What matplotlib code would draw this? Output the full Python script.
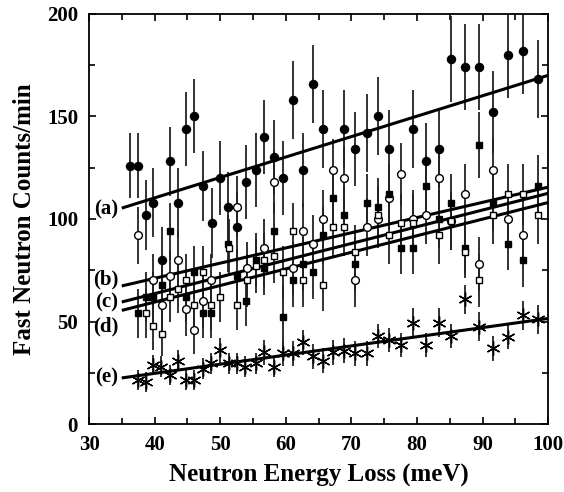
import matplotlib
matplotlib.use("Agg")
import matplotlib.pyplot as plt
from matplotlib.ticker import MultipleLocator

plt.rcParams['font.family'] = ['Liberation Serif', 'DejaVu Serif']
plt.rcParams['font.weight'] = 'bold'

# (a) filled circles
xa = [36.3, 37.5, 38.7, 39.8, 41.1, 42.3, 43.6, 44.8, 46.0, 47.4, 48.7, 49.9, 51.2, 52.6,
      53.9, 55.4, 56.7, 58.2, 59.6, 61.1, 62.6, 64.2, 65.7, 68.9, 70.5, 72.3, 74.0, 75.8,
      79.4, 81.4, 83.3, 85.2, 87.3, 89.4, 91.6, 93.8, 96.1, 98.4]
ya = [126, 126, 102, 108, 80, 128, 108, 144, 150, 116, 98, 120, 106, 96,
      118, 124, 140, 130, 120, 158, 124, 166, 144, 144, 134, 142, 150, 134,
      144, 128, 134, 178, 174, 174, 152, 180, 182, 168]
ea = [16, 16, 17, 17, 16, 17, 17, 18, 18, 17, 17, 18, 17, 17,
      18, 18, 18, 18, 18, 19, 18, 19, 19, 19, 18, 19, 19, 19,
      19, 19, 19, 21, 21, 21, 20, 21, 21, 19]

# (b) open circles
xb = [37.5, 39.8, 41.1, 42.3, 43.6, 44.8, 46.0, 47.4, 48.6, 52.6, 54.0, 56.7, 58.2, 61.1,
      62.6, 64.2, 65.7, 67.2, 68.9, 70.5, 72.3, 74.0, 75.8, 77.5, 79.4, 81.4, 83.3, 85.2,
      87.3, 89.4, 91.6, 93.8, 96.1]
yb = [92, 70, 58, 72, 80, 56, 46, 60, 70, 106, 76, 86, 118, 76,
      94, 88, 100, 124, 120, 70, 96, 100, 110, 122, 100, 102, 120, 99,
      112, 78, 124, 100, 92]
eb = [14, 13, 13, 13, 14, 13, 12, 13, 13, 15, 13, 14, 15, 13,
      14, 14, 14, 15, 15, 13, 14, 14, 15, 15, 14, 14, 15, 14,
      15, 13, 15, 14, 14]

# (c) filled squares
xc = [37.5, 38.7, 39.8, 41.1, 42.3, 44.8, 46.0, 47.4, 48.6, 51.2, 52.6, 53.9, 55.4, 56.7,
      58.2, 59.6, 61.1, 62.6, 64.2, 65.7, 67.2, 68.9, 70.5, 72.3, 74.0, 75.8, 77.5, 79.4,
      81.4, 83.3, 85.2, 87.3, 89.4, 91.6, 93.8, 96.1, 98.4]
yc = [54, 62, 62, 68, 94, 62, 74, 54, 54, 88, 72, 60, 80, 76,
      94, 52, 70, 78, 74, 92, 110, 102, 78, 108, 106, 112, 86, 86,
      116, 100, 108, 86, 136, 108, 88, 80, 116]
ec = [12, 12, 12, 13, 14, 12, 13, 12, 12, 14, 13, 12, 13, 13,
      14, 16, 13, 13, 13, 14, 15, 14, 13, 14, 14, 15, 13, 13,
      15, 14, 14, 13, 16, 14, 13, 13, 15]

# (d) open squares
xd = [38.7, 39.8, 41.1, 42.4, 43.6, 44.8, 46.0, 47.4, 48.6, 49.9, 51.3, 52.6, 54.0, 55.4,
      56.7, 58.2, 59.6, 61.1, 62.6, 65.7, 67.2, 68.9, 70.5, 74.0, 75.8, 77.5, 79.4, 83.3,
      85.2, 87.3, 89.4, 91.6, 93.8, 96.1, 98.4]
yd = [54, 48, 44, 62, 66, 70, 58, 74, 58, 62, 86, 58, 70, 77,
      80, 82, 74, 94, 70, 68, 96, 96, 84, 102, 92, 98, 98, 92,
      99, 84, 70, 102, 112, 112, 102]
ed = [12, 12, 11, 12, 12, 13, 12, 13, 12, 12, 14, 12, 13, 13,
      13, 13, 13, 14, 13, 13, 14, 14, 13, 14, 14, 14, 14, 14,
      14, 13, 13, 14, 15, 15, 14]

# (e) asterisks
xe = [37.5, 38.7, 39.8, 41.0, 42.3, 43.6, 44.8, 46.0, 47.4, 48.6, 49.9, 51.3, 52.6, 53.8,
      55.4, 56.7, 58.2, 59.6, 61.1, 62.6, 64.2, 65.7, 67.2, 68.9, 70.5, 72.3, 74.0, 75.8,
      77.5, 79.4, 81.4, 83.3, 85.2, 87.3, 89.4, 91.6, 93.8, 96.1, 98.4]
ye = [21.5, 20.6, 28.8, 28, 24, 31, 21.5, 21.5, 27, 29.6, 36, 29.6, 29.6, 28,
      29.6, 35, 28, 34.5, 34.5, 39.8, 33, 31, 35, 35.8, 34.5, 34.5, 43, 41,
      38.5, 49.4, 38.5, 49.4, 43, 60.8, 47.5, 37, 42.6, 53, 51]
ee = [5, 5, 5, 5, 5, 5, 5, 5, 5, 5, 6, 5, 5, 5,
      5, 6, 5, 6, 6, 6, 6, 6, 6, 6, 6, 6, 6, 6,
      6, 7, 6, 7, 6, 7, 7, 6, 6, 7, 7]

# fitted lines (end points)
fit_x = [35.2, 100]
fit_a = [105.5, 170]
fit_b = [67.5, 115.5]
fit_c = [59.7, 112.5]
fit_d = [55.6, 108]
fit_e = [22.6, 51.5]

labels = ['(a)', '(b)', '(c)', '(d)', '(e)']
label_y = [104.5, 70.5, 59.5, 47.5, 22.5]

fig = plt.figure(figsize=(5.64, 4.92), dpi=100)
ax = fig.add_axes([0.158, 0.138, 0.814, 0.834])

ekw = dict(ecolor='#222222', elinewidth=1.3, capsize=0, linestyle='none')
ax.errorbar(xa, ya, yerr=ea, marker='o', ms=5.8, mfc='black', mec='black', **ekw)
ax.errorbar(xb, yb, yerr=eb, marker='o', ms=5.6, mfc='white', mec='black', mew=1, **ekw)
ax.errorbar(xc, yc, yerr=ec, marker='s', ms=4.8, mfc='black', mec='black', **ekw)
ax.errorbar(xd, yd, yerr=ed, marker='s', ms=4.8, mfc='white', mec='black', mew=1, **ekw)
ax.errorbar(xe, ye, yerr=ee, marker=(6, 2, 0), ms=10, mec='black', mew=1, **ekw)

for fy in [fit_a, fit_b, fit_c, fit_d, fit_e]:
    ax.plot(fit_x, fy, color='black', lw=2.2)

for lab, ly in zip(labels, label_y):
    ax.text(32.6, ly, lab, ha='center', va='center', fontsize=15, fontweight='bold')

ax.set_xlim(30, 100)
ax.set_ylim(0, 200)
ax.xaxis.set_major_locator(MultipleLocator(10))
ax.xaxis.set_minor_locator(MultipleLocator(5))
ax.yaxis.set_major_locator(MultipleLocator(50))
ax.yaxis.set_minor_locator(MultipleLocator(25))
ax.tick_params(which='both', direction='in', top=True, right=True, width=1.2, labelsize=15)
ax.tick_params(which='major', length=5, pad=8)
ax.tick_params(which='minor', length=4)
for s in ax.spines.values():
    s.set_linewidth(1.3)
for t in ax.get_xticklabels() + ax.get_yticklabels():
    t.set_fontweight('bold')

ax.set_xlabel('Neutron Energy Loss (meV)', fontsize=18, fontweight='bold', labelpad=6)
ax.set_ylabel('Fast Neutron Counts/min', fontsize=18, fontweight='bold', labelpad=8)

fig.savefig('out.png', dpi=100)
